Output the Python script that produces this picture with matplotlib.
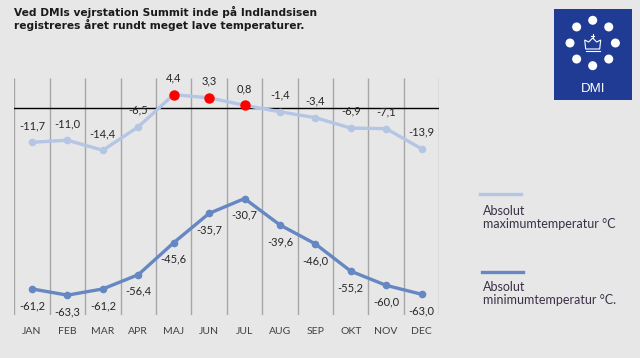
import matplotlib
matplotlib.use('Agg')
import matplotlib.pyplot as plt
import numpy as np
from matplotlib.patches import Rectangle, Circle, Polygon

months = ['JAN', 'FEB', 'MAR', 'APR', 'MAJ', 'JUN', 'JUL', 'AUG', 'SEP', 'OKT', 'NOV', 'DEC']
max_temp = [-11.7, -11.0, -14.4, -6.5, 4.4, 3.3, 0.8, -1.4, -3.4, -6.9, -7.1, -13.9]
min_temp = [-61.2, -63.3, -61.2, -56.4, -45.6, -35.7, -30.7, -39.6, -46.0, -55.2, -60.0, -63.0]
title_lines = ['Ved DMIs vejrstation Summit inde på Indlandsisen',
               'registreres året rundt meget lave temperaturer.']
legend_labels = ['Absolut\nmaximumtemperatur °C', 'Absolut\nminimumtemperatur °C.']

bg = '#e7e7e7'
c_max = '#b4c6e4'
c_min = '#6587c2'
lab_font = 'Lato'

W, H = 640, 358
fig = plt.figure(figsize=(6.4, 3.58), dpi=100, facecolor=bg)

ax = fig.add_axes([14.3 / W, (H - 315) / H, (439.3 - 14.3) / W, (315 - 78) / H])
ax.set_facecolor(bg)
x = np.arange(len(months))
ax.set_xlim(-0.5, 11.5)
ax.set_ylim(-70, 10)
for s in ax.spines.values():
    s.set_visible(False)
ax.set_yticks([])
ax.vlines(np.arange(-0.5, 12, 1), -70, 10, color='#a6a6a6', lw=1.0, zorder=1)
ax.axhline(0, color='black', lw=1.0, zorder=2)

ax.plot(x, max_temp, color=c_max, lw=2.4, marker='o', ms=4.5, zorder=3)
pos = [i for i, v in enumerate(max_temp) if v > 0]
ax.plot([x[i] for i in pos], [max_temp[i] for i in pos], 'o', color='red', ms=6.5, zorder=4)
ax.plot(x, min_temp, color=c_min, lw=2.4, marker='o', ms=4.5, zorder=3)

for i, v in enumerate(max_temp):
    ax.annotate(f'{v:.1f}'.replace('.', ','), (x[i], v), xytext=(0, 12), textcoords='offset points',
                ha='center', va='center', fontsize=8, family=lab_font, color='#262626')
for i, v in enumerate(min_temp):
    ax.annotate(f'{v:.1f}'.replace('.', ','), (x[i], v), xytext=(0, -12), textcoords='offset points',
                ha='center', va='center', fontsize=8, family=lab_font, color='#262626')

ax.set_xticks(x)
ax.set_xticklabels(months, fontsize=7.5, family=lab_font, color='#404040')
ax.tick_params(axis='x', length=0, pad=9)

# titel
fig.text(14 / W, 1 - 12 / H, title_lines[0], fontsize=7.7, weight='bold', va='center', color='#1a1a1a')
fig.text(14 / W, 1 - 25 / H, title_lines[1], fontsize=7.7, weight='bold', va='center', color='#1a1a1a')

# legende
fig.lines.append(plt.Line2D([480 / W, 521 / W], [1 - 194.3 / H] * 2, color=c_max, lw=2.4, transform=fig.transFigure))
fig.lines.append(plt.Line2D([482 / W, 523 / W], [1 - 272.3 / H] * 2, color=c_min, lw=2.4, transform=fig.transFigure))
fig.text(483 / W, 1 - 217 / H, legend_labels[0], fontsize=9, family=lab_font, va='center',
         color='#3a3046', linespacing=1.1)
fig.text(483 / W, 1 - 293.5 / H, legend_labels[1], fontsize=9, family=lab_font, va='center',
         color='#3a3046', linespacing=1.1)

# DMI logo
lx = fig.add_axes([554 / W, (H - 100) / H, 78 / W, 91 / H])
lx.set_xlim(0, 78)
lx.set_ylim(91, 0)
lx.axis('off')
lx.add_patch(Rectangle((0, 0), 78, 91, color='#1f3b93'))
cx, cy, r = 38.7, 34.0, 22.7
for a in np.arange(0, 360, 45):
    t = np.radians(a)
    lx.add_patch(Circle((cx + r * np.cos(t), cy + r * np.sin(t)), 3.8, color='white'))
crown = [(cx - 7, cy + 6), (cx - 8, cy - 3), (cx - 4, cy - 1), (cx, cy - 5), (cx + 4, cy - 1),
         (cx + 8, cy - 3), (cx + 7, cy + 6)]
lx.add_patch(Polygon(crown, closed=True, fill=False, ec='white', lw=0.8))
lx.plot([cx - 7, cx + 7], [cy + 8, cy + 8], color='white', lw=0.8)
lx.plot([cx, cx], [cy - 5, cy - 9], color='white', lw=0.8)
lx.plot([cx - 1.5, cx + 1.5], [cy - 7.5, cy - 7.5], color='white', lw=0.8)
lx.text(cx, 80, 'DMI', color='white', fontsize=9.5, ha='center', va='center', family='Liberation Sans')

fig.savefig('out.png', dpi=100, facecolor=bg)
